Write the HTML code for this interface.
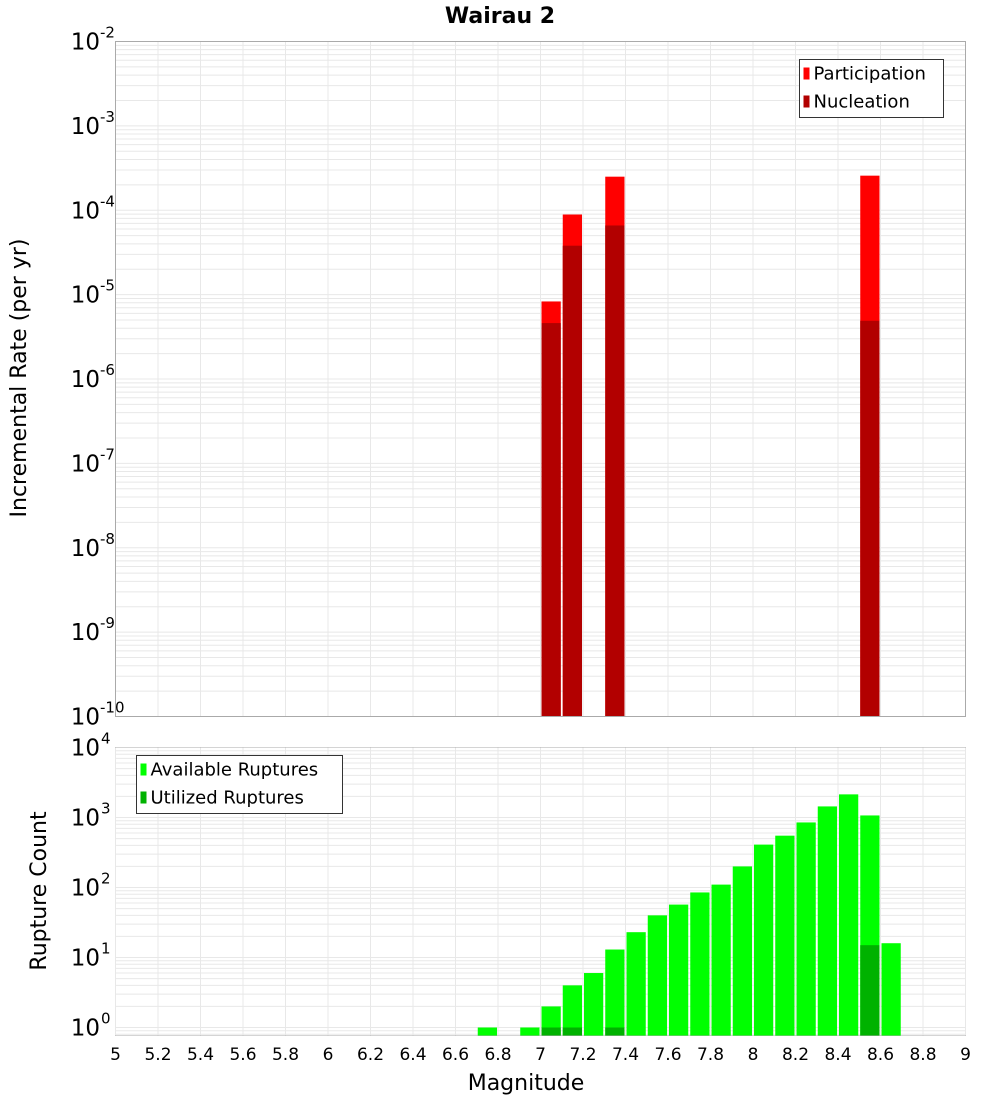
<!DOCTYPE html>
<html><head><meta charset="utf-8"><style>
html,body{margin:0;padding:0;background:#fff;}
svg{display:block;font-family:"DejaVu Sans","Liberation Sans",sans-serif;}
</style></head><body>
<svg id="chart" width="1000" height="1100" viewBox="0 0 1000 1100">
<text x="500" y="23" text-anchor="middle" font-size="22" font-weight="bold">Wairau 2</text>
<g id="topPanel"></g>
<g id="botPanel"></g>
<text x="526" y="1090" text-anchor="middle" font-size="22">Magnitude</text>
<text transform="translate(26,378) rotate(-90)" text-anchor="middle" font-size="22">Incremental Rate (per yr)</text>
<text transform="translate(46,891) rotate(-90)" text-anchor="middle" font-size="22">Rupture Count</text>
</svg>
<script>
const xTicks=[5,5.2,5.4,5.6,5.8,6,6.2,6.4,6.6,6.8,7,7.2,7.4,7.6,7.8,8,8.2,8.4,8.6,8.8,9];
const rateMags=[7.05,7.15,7.35,8.55];
const participation=[8.3e-6,8.9e-5,2.5e-4,2.57e-4];
const nucleation=[4.6e-6,3.8e-5,6.6e-5,4.9e-6];
const countMags=[6.75,6.95,7.05,7.15,7.25,7.35,7.45,7.55,7.65,7.75,7.85,7.95,8.05,8.15,8.25,8.35,8.45,8.55,8.65];
const available=[1,1,2,4,6,13,23,40,57,85,110,200,410,550,850,1440,2140,1070,16];
const utilizedMags=[7.05,7.15,7.35,8.55];
const utilized=[1,1,1,15];
const topExps=[-2,-3,-4,-5,-6,-7,-8,-9,-10];
const botExps=[4,3,2,1,0];

const NS='http://www.w3.org/2000/svg';
const L=115.5,R=965.5;
const xS=m=>L+(m-5)/4*(R-L);
const T1=41.5,B1=716.5;
const yT=v=>B1-(Math.log10(v)+10)/8*(B1-T1);
const T2=747.5,B2=1035.5;
const y0=1027.5,dec=70;
const yB=v=>y0-Math.log10(v)*dec;
function mk(p,tag,a,txt){const e=document.createElementNS(NS,tag);for(const k in a)e.setAttribute(k,a[k]);if(txt!==undefined)e.textContent=txt;p.appendChild(e);return e;}
const topG=document.getElementById('topPanel'),botG=document.getElementById('botPanel');

function panel(g,T,B,yfun,lo,hi){
  const bg=mk(g,'rect',{x:L,y:T,width:R-L,height:B-T,fill:'#fff'});
  
  
  for(let e=lo;e<hi;e++)for(let k=1;k<10;k++){const y=yfun(k*Math.pow(10,e));if(y<T||y>B)continue;
    const ln=mk(g,'line',{x1:L,x2:R,y1:y,y2:y,stroke:'#e8e8e8','stroke-width':1});
    
    }
  xTicks.forEach(t=>{const x=xS(t);
    const ln=mk(g,'line',{x1:x,x2:x,y1:T,y2:B,stroke:'#e8e8e8','stroke-width':1});
    
    });
}
panel(topG,T1,B1,yT,-10,-2);
panel(botG,T2,B2,yB,-1,4);

function bar(g,m,v,yfun,B,fill,name){const x=xS(m-0.05)+1,w=xS(m+0.05)-xS(m-0.05)-2;const y=yfun(v);
  const r=mk(g,'rect',{x:x,y:y,width:w,height:B-y,fill:fill});
  
  }
rateMags.forEach((m,i)=>bar(topG,m,participation[i],yT,B1,'#ff0000','participation-bar'));
rateMags.forEach((m,i)=>bar(topG,m,nucleation[i],yT,B1,'#b20000','nucleation-bar'));
countMags.forEach((m,i)=>bar(botG,m,available[i],yB,B2,'#00ff00','available-bar'));
utilizedMags.forEach((m,i)=>bar(botG,m,utilized[i],yB,B2,'#00b200','utilized-bar'));

[[T1,B1],[T2,B2]].forEach(([T,B])=>{const f=mk(topG,'rect',{x:L,y:T,width:R-L,height:B-T,fill:'none',stroke:'#aaa','stroke-width':1});
  
  });

topExps.forEach(e=>{const y=yT(Math.pow(10,e));
  const t=mk(topG,'text',{x:100,y:y+8,'text-anchor':'end','font-size':23});
  
  
  t.textContent='10';
  const s=mk(topG,'text',{x:100,y:y-4,'font-size':15});
  
  
  s.textContent=String(e);});
botExps.forEach(e=>{const y=yB(Math.pow(10,e));
  const t=mk(botG,'text',{x:100,y:y+8,'text-anchor':'end','font-size':23});
  
  
  t.textContent='10';
  const s=mk(botG,'text',{x:101,y:y-4,'font-size':15});
  
  
  s.textContent=String(e);});
xTicks.forEach(t=>{const tx=mk(botG,'text',{x:xS(t),y:1060,'text-anchor':'middle','font-size':17});
  
  
  tx.textContent=String(t);});

function legend(g,x,y,w,items){const b=mk(g,'rect',{x:x,y:y,width:w,height:58,fill:'#fff',stroke:'#333','stroke-width':1});
  
  
  items.forEach((it,i)=>{const yy=y+14+i*28;
    const sw=mk(g,'rect',{x:x+4,y:yy-6,width:6,height:12,fill:it[1]});
    
    
    const t=mk(g,'text',{x:x+14,y:yy+6,'font-size':18});
    
    
    t.textContent=it[0];});}
legend(topG,799.5,59.5,144,[['Participation','#ff0000'],['Nucleation','#b20000']]);
legend(botG,136.5,755.5,206,[['Available Ruptures','#00ff00'],['Utilized Ruptures','#00b200']]);
</script>
</body></html>
